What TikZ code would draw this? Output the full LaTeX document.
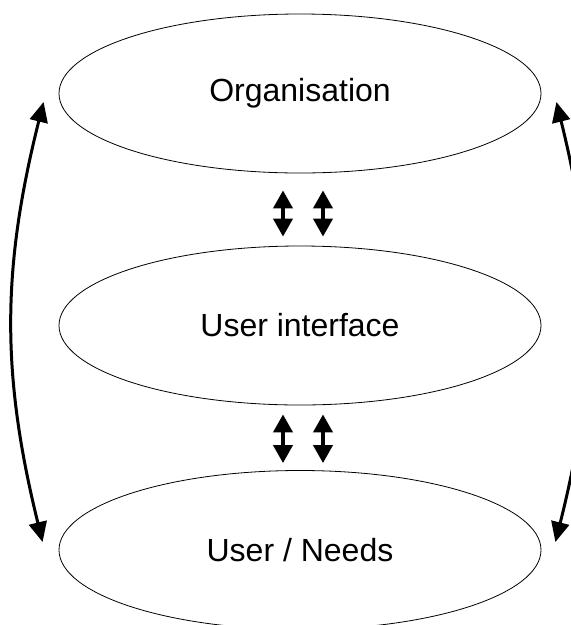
\documentclass[tikz,border=0pt]{standalone}
\usepackage{fontspec}
\setmainfont{Liberation Sans}
\usetikzlibrary{shapes.geometric,arrows.meta}

\begin{document}
\begin{tikzpicture}[x=1pt,y=-1pt,
  area/.style={ellipse,draw,line width=0.8pt,minimum width=482pt,minimum height=159pt,inner sep=0pt,font=\fontsize{32}{38}\selectfont},
  link/.style={{Triangle[length=20pt,width=18pt]}-{Triangle[length=20pt,width=18pt]},line width=3pt},
  duo/.style={{Triangle[length=18pt,width=19pt]}-{Triangle[length=18pt,width=19pt]},line width=4pt}]
\useasboundingbox (0,0) rectangle (571,625);
\node[area] (org) at (300,93.5) {Organisation};
\node[area] (ui) at (300,325.5) {User interface};
\node[area] (user) at (300,550) {User / Needs};
% outer links
\draw[link] ([xshift=-15pt,yshift=-8.5pt]org.west) to[bend right=14] ([xshift=-16pt,yshift=8pt]user.west);
\draw[link] ([xshift=15pt,yshift=-8.5pt]org.east) to[bend left=14] ([xshift=14pt,yshift=8pt]user.east);
% inner links
\foreach \dx in {-17,23} {
  \draw[duo] ([xshift=\dx pt,yshift=-17pt]org.south) -- ([xshift=\dx pt,yshift=9pt]ui.north);
  \draw[duo] ([xshift=\dx pt,yshift=-9pt]ui.south) -- ([xshift=\dx pt,yshift=7pt]user.north);
}
\end{tikzpicture}
\end{document}
